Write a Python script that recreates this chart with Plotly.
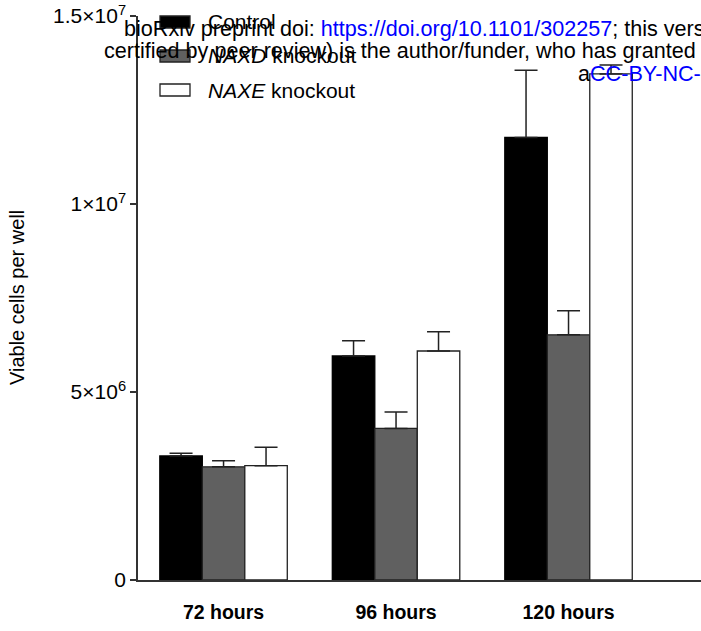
import plotly.graph_objects as go

# ---- data ----
timepoints = ["72 hours", "96 hours", "120 hours"]
series_names = ["Control", "NAXD knockout", "NAXE knockout"]
control_mean = [3.30e6, 5.96e6, 11.77e6]
control_sd = [0.07e6, 0.40e6, 1.79e6]
naxd_mean = [3.01e6, 4.03e6, 6.52e6]
naxd_sd = [0.16e6, 0.44e6, 0.64e6]
naxe_mean = [3.04e6, 6.09e6, 13.46e6]
naxe_sd = [0.49e6, 0.51e6, 0.24e6]

y_tickvals = [0, 5e6, 1e7, 1.5e7]
y_ticktext = ["0", "5×10<sup>6</sup>", "1×10<sup>7</sup>", "1.5×10<sup>7</sup>"]

FONT = "Liberation Sans, Arial, sans-serif"
W, H = 701, 631
ML, MR, MT, MB = 138, 0, 16, 51
PW, PH = W - ML - MR, H - MT - MB


def px2x(px):
    return (px - ML) / PW


def px2y(py):
    return (H - MB - py) / PH


styles = [
    dict(fill="#000000", line="#000000"),
    dict(fill="#606060", line="#222222"),
    dict(fill="#ffffff", line="#222222"),
]
means = [control_mean, naxd_mean, naxe_mean]
sds = [control_sd, naxd_sd, naxe_sd]

fig = go.Figure()
for name, m, s, st in zip(series_names, means, sds, styles):
    fig.add_trace(go.Bar(
        x=timepoints, y=m, name=name,
        marker=dict(color=st["fill"], line=dict(color=st["line"], width=1.3)),
        error_y=dict(type="data", symmetric=False, array=s, arrayminus=[0] * len(s),
                     width=11.5, thickness=1.5, color="#222222"),
        showlegend=False,
    ))

# manual legend (wide swatches like the original)
legend_labels = ["Control", "<i>NAXD</i> knockout", "<i>NAXE</i> knockout"]
legend_rows = [22, 56, 90]
shapes = []
annotations = []
for lab, st, cy in zip(legend_labels, styles, legend_rows):
    shapes.append(dict(type="rect", xref="paper", yref="paper",
                       x0=px2x(160), x1=px2x(190), y0=px2y(cy + 6), y1=px2y(cy - 6),
                       fillcolor=st["fill"], line=dict(color="#222222", width=1.3),
                       layer="above"))
    annotations.append(dict(xref="paper", yref="paper", x=px2x(206), y=px2y(cy),
                            xanchor="left", yanchor="middle", showarrow=False,
                            text=lab, font=dict(family=FONT, size=21, color="#000")))

# y-axis title
annotations.append(dict(xref="paper", yref="paper", x=px2x(17), y=px2y(298),
                        xanchor="center", yanchor="middle", showarrow=False,
                        textangle=-90, text="Viable cells per well",
                        font=dict(family=FONT, size=20, color="#000")))

# watermark lines overlaying the figure (cut at the right edge, as in the original)
blue = "#0000ff"
wm = [
    (122, 28, "bioRxiv preprint doi: <span style='color:%s'>https://doi.org/10.1101/302257</span>; this vers" % blue),
    (102, 50, "certified by peer review) is the author/funder, who has granted b"),
    (576, 73, "a<span style='color:%s'>CC-BY-NC-</span>" % blue),
]
for x0, cy, t in wm:
    annotations.append(dict(xref="paper", yref="paper", x=px2x(x0), y=px2y(cy),
                            xanchor="left", yanchor="middle", showarrow=False,
                            text=t, font=dict(family=FONT, size=21.6, color="#000")))

fig.update_layout(
    width=W, height=H,
    margin=dict(l=ML, r=MR, t=MT, b=MB, pad=0),
    paper_bgcolor="white", plot_bgcolor="white",
    barmode="group", bargap=0.261, bargroupgap=0,
    font=dict(family=FONT, size=20, color="#000"),
    shapes=shapes, annotations=annotations,
    xaxis=dict(range=[-0.496, 2.768], showline=True, linecolor="#333", linewidth=1.5,
               ticks="", showgrid=False, zeroline=False, ticklabelstandoff=14,
               tickfont=dict(family=FONT, size=19.5, color="#000", weight="bold")),
    yaxis=dict(range=[0, 1.5e7], tickvals=y_tickvals, ticktext=y_ticktext,
               showline=True, linecolor="#333", linewidth=1.5,
               ticks="outside", ticklen=6, tickwidth=1.5, tickcolor="#333",
               showgrid=False, zeroline=False,
               tickfont=dict(family=FONT, size=21, color="#000")),
)

fig.write_html("out.html")
